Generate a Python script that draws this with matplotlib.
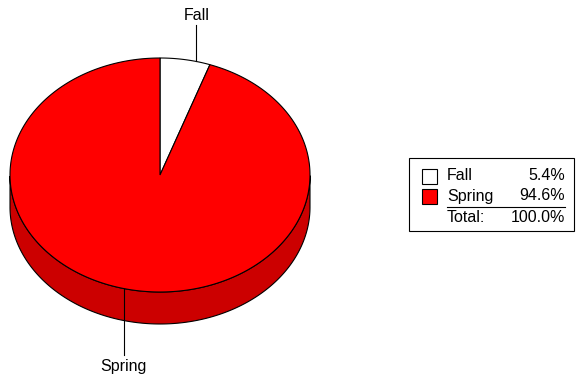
import numpy as np
import matplotlib.pyplot as plt
from matplotlib.patches import Polygon, Rectangle

plt.rcParams['font.family'] = ['Liberation Sans', 'DejaVu Sans']

labels = ['Fall', 'Spring']
shares = [5.4, 94.6]
top_colors = ['#ffffff', '#ff0000']
side_colors = ['#cccccc', '#cc0000']

W, H = 577, 381
cx, cy = 160, 175      # pie centre in pixels
rx, ry = 150, 117      # ellipse radii
depth = 32             # thickness of the pie
label_r = 1.43         # labels sit on a wider ring than the pie
fs = 11.5

fig = plt.figure(figsize=(W / 100, H / 100), dpi=100)
ax = fig.add_axes([0, 0, 1, 1])
ax.set_xlim(0, W)
ax.set_ylim(H, 0)
ax.axis('off')


def edge(t, dy=0):
    return cx + rx * np.cos(t), cy - ry * np.sin(t) + dy


# slice angles, starting at 12 o'clock and going clockwise
bounds = 90 - 360 * np.concatenate([[0], np.cumsum(shares)]) / sum(shares)
slices = [(np.radians(bounds[i]), np.radians(bounds[i + 1])) for i in range(len(shares))]

# side walls (only the front half is visible)
for (a, b), col in zip(slices, side_colors):
    t = np.linspace(a, b, 400)
    t = t[np.sin(t) < 0]
    if len(t) < 2:
        continue
    x, y = edge(t)
    x2, y2 = edge(t[::-1], depth)
    pts = np.column_stack([np.r_[x, x2], np.r_[y, y2]])
    ax.add_patch(Polygon(pts, closed=True, fc=col, ec='black', lw=0.8))

# top faces
for (a, b), col in zip(slices, top_colors):
    t = np.linspace(a, b, 400)
    x, y = edge(t)
    pts = np.column_stack([np.r_[cx, x], np.r_[cy, y]])
    ax.add_patch(Polygon(pts, closed=True, fc=col, ec='black', lw=0.8))

# slice labels with vertical leader lines down/up to the rim
for (a, b), lab in zip(slices, labels):
    m = (a + b) / 2
    lx = cx + label_r * rx * np.cos(m)
    half = ry * np.sqrt(max(0.0, 1 - ((lx - cx) / rx) ** 2))
    if np.sin(m) > 0:
        ax.plot([lx, lx], [cy - half, 25], color='black', lw=0.8)
        ax.text(lx, 16, lab, ha='center', va='center', fontsize=fs)
    else:
        ax.plot([lx, lx], [cy + half, 355], color='black', lw=0.8)
        ax.text(lx, 366, lab, ha='center', va='center', fontsize=fs)

# legend table
ax.add_patch(Rectangle((409, 158), 165, 73, fc='white', ec='black', lw=0.8))
row_y = [176, 196, 217]
for i, (lab, val, col) in enumerate(zip(labels, shares, top_colors)):
    ax.add_patch(Rectangle((422, row_y[i] - 7.5), 15, 15, fc=col, ec='black', lw=0.8))
    ax.text(447, row_y[i], lab, ha='left', va='center', fontsize=fs)
    ax.text(565, row_y[i], f'{val:.1f}%', ha='right', va='center', fontsize=fs)
ax.plot([447, 565], [207, 207], color='black', lw=0.8)
ax.text(447, row_y[2], 'Total:', ha='left', va='center', fontsize=fs)
ax.text(565, row_y[2], f'{sum(shares):.1f}%', ha='right', va='center', fontsize=fs)

fig.savefig('out.png', dpi=100)
